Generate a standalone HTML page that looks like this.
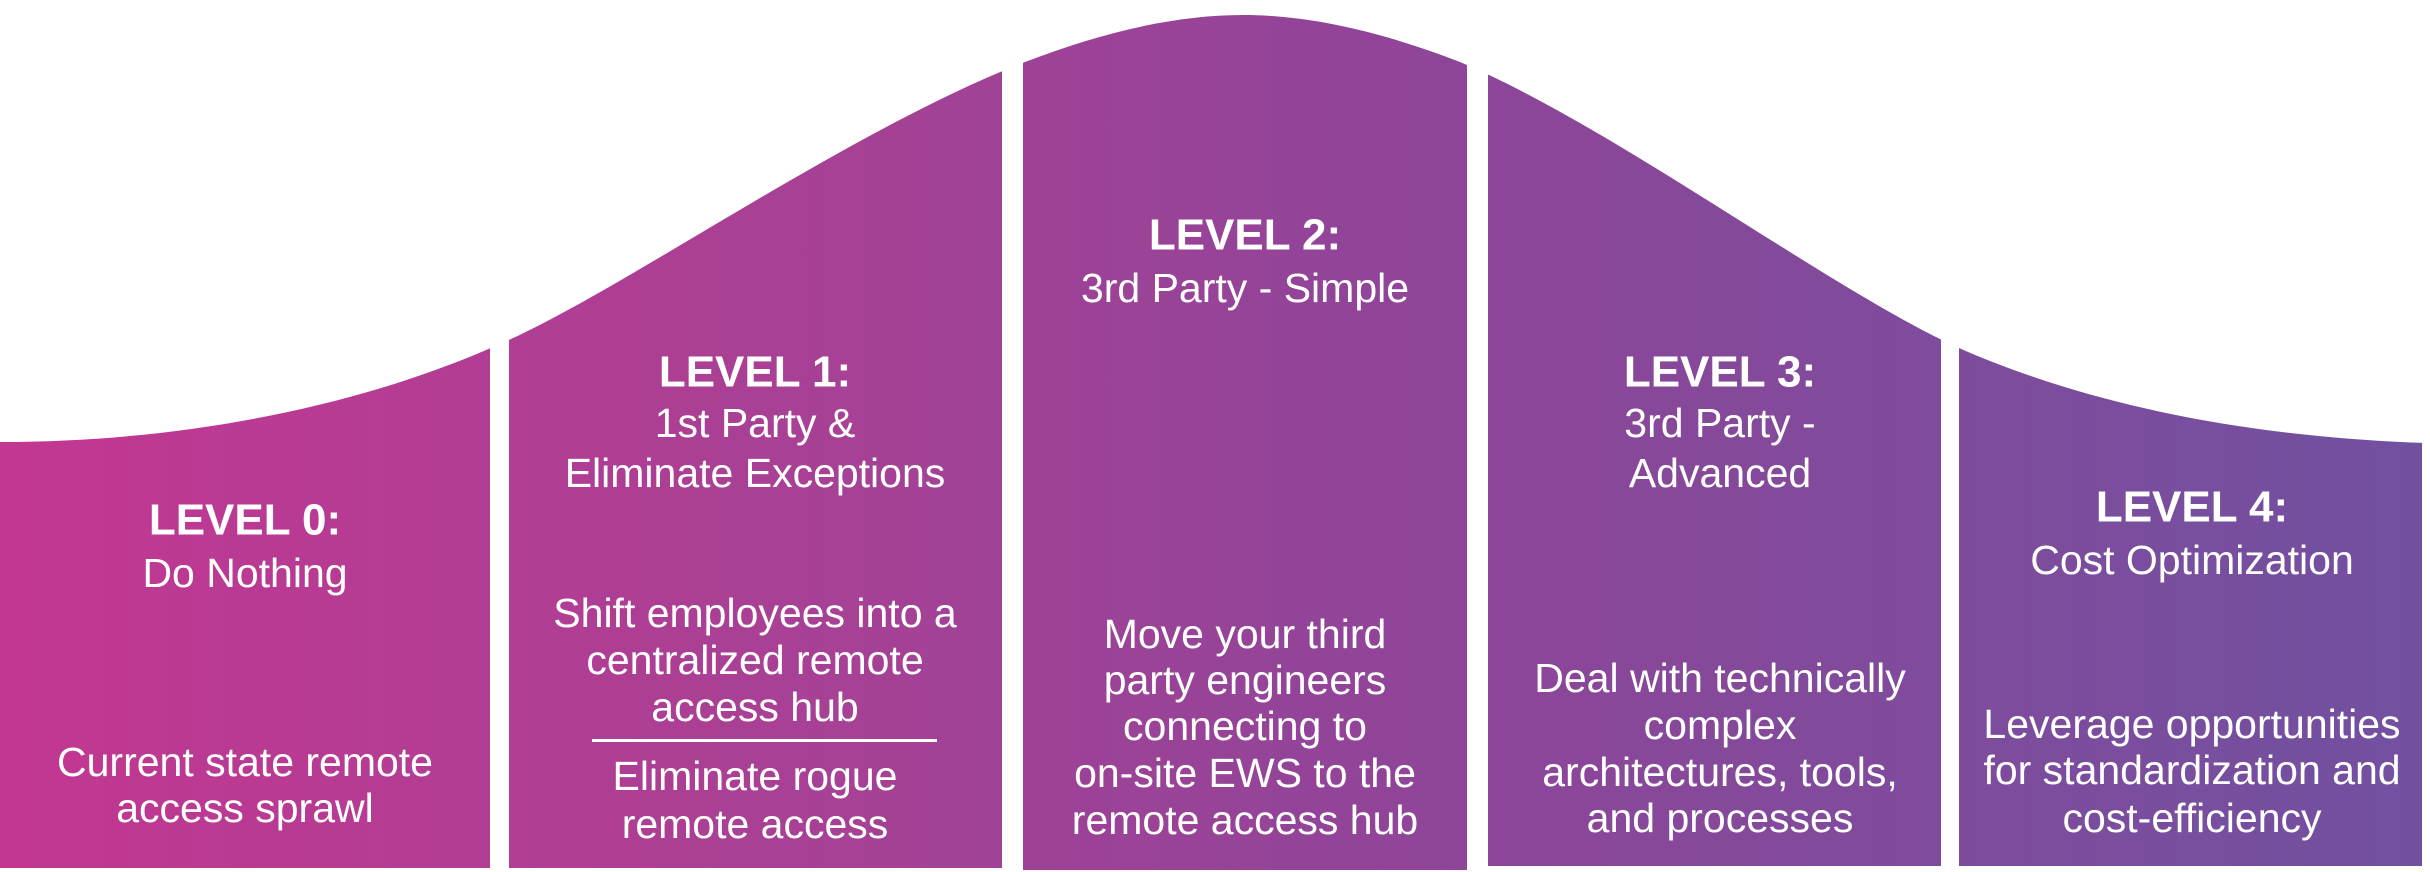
<!DOCTYPE html>
<html><head><meta charset="utf-8"><style>
html,body{margin:0;padding:0;background:#fff;}
svg{display:block;}
text{font-family:"Liberation Sans",sans-serif;fill:#fff;}
.h{font-weight:bold;font-size:44px;}
.b{font-size:41px;}
</style></head><body>
<svg width="2430" height="872" viewBox="0 0 2430 872" xmlns="http://www.w3.org/2000/svg">
<defs>
<linearGradient id="g" x1="0" y1="0" x2="2430" y2="0" gradientUnits="userSpaceOnUse">
<stop offset="0" stop-color="#c23792"/>
<stop offset="0.35" stop-color="#a64195"/>
<stop offset="0.55" stop-color="#924498"/>
<stop offset="0.75" stop-color="#824a9b"/>
<stop offset="1" stop-color="#7250a0"/>
</linearGradient>
<clipPath id="c">
<path d="M0,442 C200,442 380,400 511,339 C640,279 850,130 1025,62 C1095,35 1170,15 1243,15 C1316,15 1390,35 1460,62 C1610,125 1820,282 1950,344 C2100,412 2286,444 2486,444 L2486,872 L0,872 Z"/>
</clipPath>
</defs>
<g clip-path="url(#c)">
<rect x="0" y="0" width="490" height="868" fill="url(#g)"/>
<rect x="509" y="0" width="493" height="868" fill="url(#g)"/>
<rect x="1023" y="0" width="444" height="870" fill="url(#g)"/>
<rect x="1488" y="0" width="453" height="866" fill="url(#g)"/>
<rect x="1959" y="0" width="463" height="866" fill="url(#g)"/>
</g>
<g text-anchor="middle" dominant-baseline="central">
<text class="h" x="245" y="520">LEVEL 0:</text>
<text class="b" x="245" y="573">Do Nothing</text>
<text class="b" x="245" y="762">Current state remote</text>
<text class="b" x="245" y="808">access sprawl</text>

<text class="h" x="755" y="372">LEVEL 1:</text>
<text class="b" x="755" y="423">1st Party &amp;</text>
<text class="b" x="755" y="473">Eliminate Exceptions</text>
<text class="b" x="755" y="613">Shift employees into a</text>
<text class="b" x="755" y="660">centralized remote</text>
<text class="b" x="755" y="707">access hub</text>
<text class="b" x="755" y="776">Eliminate rogue</text>
<text class="b" x="755" y="824">remote access</text>

<text class="h" x="1245" y="235">LEVEL 2:</text>
<text class="b" x="1245" y="288">3rd Party - Simple</text>
<text class="b" x="1245" y="634">Move your third</text>
<text class="b" x="1245" y="680">party engineers</text>
<text class="b" x="1245" y="726">connecting to</text>
<text class="b" x="1245" y="773">on-site EWS to the</text>
<text class="b" x="1245" y="820">remote access hub</text>

<text class="h" x="1720" y="372">LEVEL 3:</text>
<text class="b" x="1720" y="423">3rd Party -</text>
<text class="b" x="1720" y="473">Advanced</text>
<text class="b" x="1720" y="678">Deal with technically</text>
<text class="b" x="1720" y="725">complex</text>
<text class="b" x="1720" y="772">architectures, tools,</text>
<text class="b" x="1720" y="818">and processes</text>

<text class="h" x="2192" y="507">LEVEL 4:</text>
<text class="b" x="2192" y="560">Cost Optimization</text>
<text class="b" x="2192" y="724">Leverage opportunities</text>
<text class="b" x="2192" y="770">for standardization and</text>
<text class="b" x="2192" y="818">cost-efficiency</text>
</g>
<rect x="592" y="739" width="345" height="3" fill="#fff"/>
</svg>
</body></html>
